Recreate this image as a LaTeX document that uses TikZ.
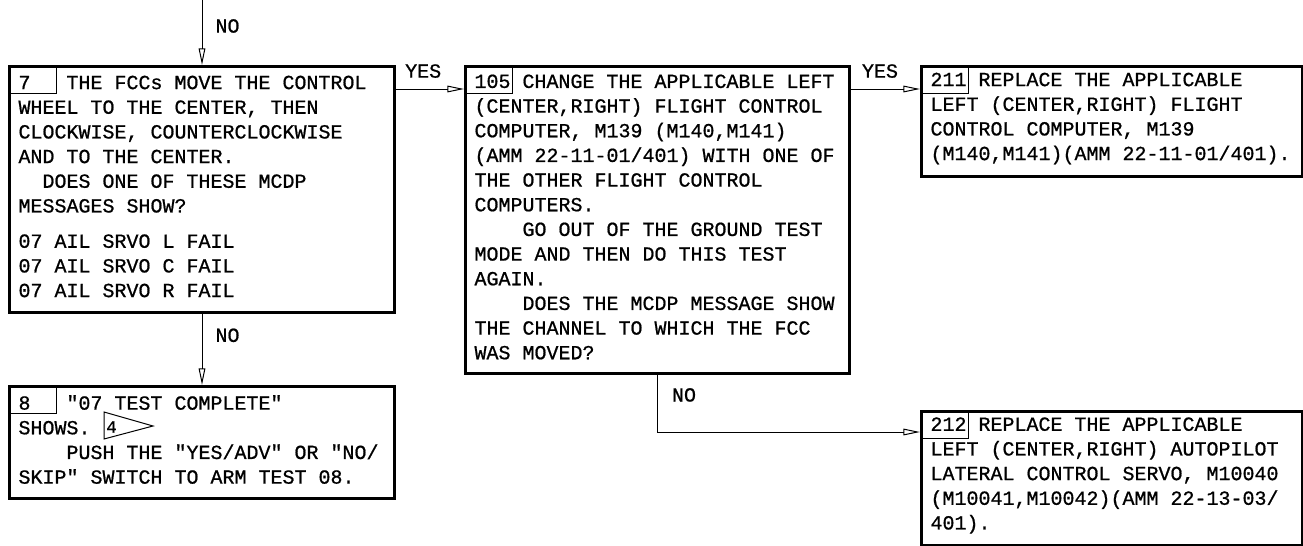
\documentclass[tikz,border=0pt]{standalone}
\usepackage{fontspec}
\newfontfamily\plainmono{Liberation Mono}[FakeBold=0.8]
\usetikzlibrary{arrows.meta,calc,positioning}
\newcommand{\nr}[1]{\makebox[2.4em][l]{#1}}
\newcommand{\ind}{\hspace*{2.4em}}
\newcommand{\monosize}{\plainmono\fontsize{15pt}{18.5pt}\selectfont\frenchspacing}
\tikzset{
  card/.style  = {draw, line width=2.25pt, anchor=north west, align=left,
                  inner xsep=6.75pt, inner ysep=0pt, font=\monosize,
                  execute at begin node={\spaceskip=0.6em\xspaceskip=0.6em\relax},
                  execute at end node={\par\vspace*{4.5pt}}},
  tag/.style   = {draw, line width=0.75pt, anchor=north west, minimum width=36pt,
                  minimum height=21pt, inner sep=0pt},
  flow/.style  = {line width=0.75pt, -{Triangle[open, length=12.5pt, width=5pt]}},
  ans/.style   = {font=\monosize, inner sep=0pt},
}

\begin{document}
\begin{tikzpicture}[x=0.75pt,y=-0.75pt]
  \useasboundingbox (0,0) rectangle (1303,546);
  % steps
  \node[card, text width=275.25pt, minimum height=184.5pt] (s7) at (8,65)
    {\nr{7}THE FCCs MOVE THE CONTROL\\
     WHEEL TO THE CENTER, THEN\\
     CLOCKWISE, COUNTERCLOCKWISE\\
     AND TO THE CENTER.\\
     \hspace*{1.2em}DOES ONE OF THESE MCDP\\
     MESSAGES SHOW?\\[8pt]
     07 AIL SRVO L FAIL\\
     07 AIL SRVO C FAIL\\
     07 AIL SRVO R FAIL};
  \node[card, text width=274.5pt, minimum height=230.25pt] (s105) at (464,65)
    {\nr{105}CHANGE THE APPLICABLE LEFT\\
     (CENTER,RIGHT) FLIGHT CONTROL\\
     COMPUTER, M139 (M140,M141)\\
     (AMM 22-11-01/401) WITH ONE OF\\
     THE OTHER FLIGHT CONTROL\\
     COMPUTERS.\\
     \ind GO OUT OF THE GROUND TEST\\
     MODE AND THEN DO THIS TEST\\
     AGAIN.\\
     \ind DOES THE MCDP MESSAGE SHOW\\
     THE CHANNEL TO WHICH THE FCC\\
     WAS MOVED?};
  \node[card, text width=272.25pt, minimum height=82.5pt] (s211) at (920,65)
    {\nr{211}REPLACE THE APPLICABLE\\
     LEFT (CENTER,RIGHT) FLIGHT\\
     CONTROL COMPUTER, M139\\
     (M140,M141)(AMM 22-11-01/401).};
  \node[card, text width=275.25pt, minimum height=84pt] (s8) at (8,385)
    {\nr{8}"07 TEST COMPLETE"\\
     SHOWS.\\
     \ind PUSH THE "YES/ADV" OR "NO/\\
     SKIP" SWITCH TO ARM TEST 08.};
  \node[card, text width=272.25pt, minimum height=100.5pt] (s212) at (920,410)
    {\nr{212}REPLACE THE APPLICABLE\\
     LEFT (CENTER,RIGHT) AUTOPILOT\\
     LATERAL CONTROL SERVO, M10040\\
     (M10041,M10042)(AMM 22-13-03/\\
     401).};
  % step numbers
  \node[tag] (t7) at (s7.north west) {};
  \node[tag] (t105) at (s105.north west) {};
  \node[tag] (t211) at (s211.north west) {};
  \node[tag] (t8) at (s8.north west) {};
  \node[tag] (t212) at (s212.north west) {};
  % note flag
  \node[ans, font=\plainmono\fontsize{13pt}{13pt}\selectfont, anchor=west] (f4) at (106,427) {4};
  \draw[line width=0.75pt] (104,412) -- (153,426) -- (104,439) -- cycle;
  % flow
  \coordinate (in7) at ([yshift=48.75pt]s7.north);
  \coordinate (j212) at ([yshift=-16.5pt]s212.north west);
  \draw[flow] (in7) -- node[ans, pos=0.4, right=9.75pt] {NO} (s7.north);
  \draw[flow] ([yshift=-18pt]s7.north east) -- node[ans, pos=0.4, above=8pt] {YES}
    ([yshift=-18pt]s105.north west);
  \draw[flow] ([yshift=-18pt]s105.north east) -- node[ans, pos=0.42, above=8pt] {YES}
    ([yshift=-18pt]s211.north west);
  \draw[flow] (s7.south) -- node[ans, pos=0.3, right=9.75pt] {NO} (s8.north);
  \draw[flow] (s105.south) |- node[ans, pos=0.175, right=10.5pt] {NO} (j212);
\end{tikzpicture}
\end{document}
